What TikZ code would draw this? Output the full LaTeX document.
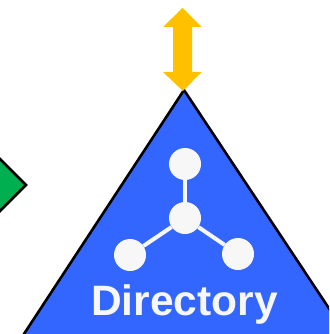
\documentclass[tikz,border=0pt]{standalone}
\usepackage{fontspec}
\setmainfont{Liberation Sans}
\definecolor{dirblue}{HTML}{3366FF}
\definecolor{dirwhite}{HTML}{F7F7F7}
\definecolor{arrowgold}{HTML}{FFC000}
\definecolor{diamondgreen}{HTML}{00B050}
\tikzset{
  hub/.style={circle,fill=dirwhite,draw=none,minimum size=32pt,inner sep=0pt},
  spoke/.style={draw=dirwhite,line width=4pt},
  shapeline/.style={draw=black,line width=2.6pt,line join=miter}
}
\begin{document}
\begin{tikzpicture}[x=1pt,y=-1pt]
\useasboundingbox (0,0) rectangle (329,334);
\clip (0,0) rectangle (329,334);
% green diamond
\path[shapeline,fill=diamondgreen] (26,185) -- (-22,137) -- (-70,185) -- (-22,233) -- cycle;
% triangle
\path[shapeline,fill=dirblue] (184,90) -- (350,340) -- (20,340) -- cycle;
% double arrow
\fill[arrowgold] (182.5,8) -- (201.5,27) -- (192,27) -- (192,72) -- (201.5,72) -- (183,91) -- (163,72) -- (173,72) -- (173,27) -- (163,27) -- cycle;
% tree icon
\node[hub] (top) at (185,164) {};
\node[hub] (mid) at (185,218) {};
\node[hub] (left) at (130,255) {};
\node[hub] (right) at (238,254) {};
\draw[spoke] (top) -- (mid);
\draw[spoke] (mid) -- (left);
\draw[spoke] (mid) -- (right);
\node[text=dirwhite,font=\fontsize{42.5}{42.5}\selectfont\bfseries,inner sep=0pt,anchor=base] (label) at (184.5,315) {Directory};
\end{tikzpicture}
\end{document}
